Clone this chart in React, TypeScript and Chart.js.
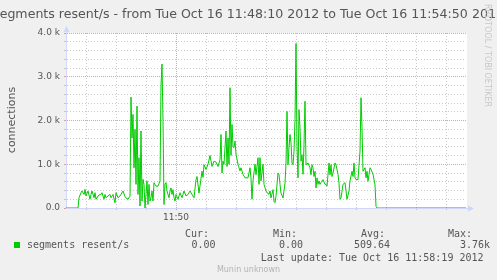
import { useEffect, useRef } from "react";
import { Chart, registerables } from "chart.js";

Chart.register(...registerables);

// seconds after 11:48:10
const seconds = [
  0, 12, 13, 15, 16, 18, 19, 20, 22, 24, 25, 26, 28, 29, 30, 32, 34, 35, 36, 38,
  39, 40, 42, 44, 45, 47, 49, 50, 52, 54, 55, 57, 59, 60, 62, 64, 65, 66, 67, 68,
  69, 70, 71, 72, 73, 74, 75, 76, 77, 78, 79, 80, 81, 82, 83, 84, 85, 86, 87, 88,
  89, 90, 92, 94, 95, 96, 97, 98, 99, 100, 101, 102, 103, 104, 105, 106, 107, 108, 109, 110,
  112, 114, 116, 118, 120, 122, 124, 126, 128, 130, 131, 133, 136, 137, 138, 140, 142, 144, 146, 148,
  150, 152, 154, 155, 156, 157, 158, 160, 161, 162, 163, 164, 165, 166, 167, 168, 169, 170, 172, 174,
  175, 177, 179, 181, 182, 184, 185, 186, 187, 189, 190, 192, 193, 194, 195, 197, 198, 200, 201, 203,
  204, 205, 207, 208, 209, 210, 212, 213, 214, 215, 217, 219, 220, 221, 222, 223, 224, 225, 226, 227,
  228, 229, 230, 231, 232, 233, 234, 235, 236, 237, 238, 239, 240, 241, 242, 244, 245, 246, 247, 248,
  249, 250, 251, 252, 253, 254, 255, 257, 259, 260, 261, 263, 264, 265, 266, 267, 269, 270, 272, 273,
  274, 275, 277, 279, 280, 281, 283, 284, 286, 287, 288, 289, 290, 292, 294, 295, 296, 297, 299, 300,
  301, 302, 304, 305, 307, 309, 310, 311, 400,
];

const resent = [
  0, 0, 235, 350, 390, 310, 425, 275, 390, 200, 310, 390, 235, 350, 200, 275, 310, 310, 350, 200,
  310, 235, 275, 310, 235, 310, 120, 350, 235, 275, 310, 390, 260, 230, 200, 270, 2535, 1600, 2140, 920,
  1800, 540, 2330, 310, 1150, 45, 1760, 160, 655, 540, 0, 310, 620, 80, 540, 160, 235, 390, 160, 580,
  540, 500, 500, 620, 2800, 3290, 2000, 80, 540, 580, 390, 310, 235, 390, 460, 310, 420, 235, 160, 310,
  200, 350, 235, 390, 275, 310, 390, 310, 235, 650, 720, 340, 840, 700, 990, 880, 1000, 1200, 950, 1070,
  1050, 950, 1100, 1680, 800, 1070, 1000, 1760, 950, 1600, 1000, 2750, 1200, 1910, 1400, 1380, 1530, 1230, 1000, 850,
  920, 770, 690, 690, 690, 920, 690, 200, 620, 1000, 760, 1150, 540, 1150, 620, 1000, 540, 390, 350, 310,
  390, 230, 420, 150, 120, 270, 800, 760, 540, 340, 230, 570, 1030, 2210, 990, 1380, 1680, 1490, 1030, 990,
  1300, 2020, 3760, 1410, 690, 2250, 1830, 1070, 1220, 770, 1450, 2440, 1000, 1000, 1030, 920, 760, 990, 920, 720,
  840, 460, 690, 540, 620, 540, 580, 650, 540, 540, 500, 1030, 760, 990, 720, 800, 1030, 990, 770, 570,
  200, 230, 540, 580, 390, 200, 390, 620, 840, 720, 1030, 690, 650, 650, 1300, 2520, 1830, 840, 920, 690,
  840, 610, 920, 880, 770, 530, 40, 0, 0,
];

const yTickValues = [0, 200, 400, 600, 800, 1000, 1200, 1400, 1600, 1800, 2000, 2200, 2400, 2600, 2800, 3000, 3200, 3400, 3600, 3800, 4000];
const yTickLabels: Record<number, string> = { 0: "0.0", 1000: "1.0 k", 2000: "2.0 k", 3000: "3.0 k", 4000: "4.0 k" };
const xTickValues = [20, 50, 80, 110, 140, 170, 200, 230, 260, 290, 320, 350, 380];
const xTickLabels: Record<number, string> = { 110: "11:50" };

const titleText = "segments resent/s - from Tue Oct 16 11:48:10 2012 to Tue Oct 16 11:54:50 2012";
const yAxisTitle = "connections";
const seriesName = "segments resent/s";
const statHeaders = ["Cur:", "Min:", "Avg:", "Max:"];
const statValues = ["0.00", "0.00", "509.64", "3.76k"];
const lastUpdate = "Last update: Tue Oct 16 11:58:19 2012";
const footer = "Munin unknown";
const watermark = "RRDTOOL / TOBI OETIKER";

const GRID = "rgba(150,150,150,0.5)";
const MGRID = "rgba(222,79,79,0.55)";
const AXIS = "#CFD6F8";
const FONT = "#555555";
const LINE = "#00CC00";

const munin = {
  id: "munin",
  beforeDraw(chart: any) {
    const { ctx, chartArea: a } = chart;
    ctx.save();
    ctx.fillStyle = "#FFFFFF";
    ctx.fillRect(a.left, a.top, a.right - a.left + 1, a.bottom - a.top);
    ctx.restore();
  },
  afterDraw(chart: any) {
    const { ctx, chartArea: a } = chart;
    ctx.save();
    // arrows
    ctx.fillStyle = AXIS;
    ctx.strokeStyle = AXIS;
    ctx.lineWidth = 1;
    ctx.beginPath();
    ctx.moveTo(a.right, a.bottom + 0.5);
    ctx.lineTo(a.right + 3, a.bottom + 0.5);
    ctx.stroke();
    ctx.beginPath();
    ctx.moveTo(a.right + 2, a.bottom - 2.5);
    ctx.lineTo(a.right + 8, a.bottom + 0.5);
    ctx.lineTo(a.right + 2, a.bottom + 3.5);
    ctx.closePath();
    ctx.fill();
    ctx.beginPath();
    ctx.moveTo(a.left - 2.5, a.top - 1);
    ctx.lineTo(a.left + 0.5, a.top - 7);
    ctx.lineTo(a.left + 3.5, a.top - 1);
    ctx.closePath();
    ctx.fill();
    ctx.beginPath();
    ctx.moveTo(a.left + 0.5, a.top - 1);
    ctx.lineTo(a.left + 0.5, a.top + 1);
    ctx.stroke();

    // title
    ctx.fillStyle = FONT;
    ctx.font = '12.6px "DejaVu Sans"';
    ctx.textAlign = "center";
    ctx.textBaseline = "alphabetic";
    ctx.fillText(titleText, 248.5, 18);

    // y axis title
    ctx.save();
    ctx.translate(15, 120);
    ctx.rotate(-Math.PI / 2);
    ctx.font = '11px "DejaVu Sans"';
    ctx.textAlign = "center";
    ctx.fillText(yAxisTitle, 0, 0);
    ctx.restore();

    // watermark
    ctx.save();
    ctx.translate(485, 4);
    ctx.rotate(Math.PI / 2);
    ctx.font = '8px "DejaVu Sans"';
    ctx.fillStyle = "#C8C8C8";
    ctx.textAlign = "left";
    ctx.fillText(watermark, 0, 0);
    ctx.restore();

    // legend
    ctx.fillStyle = LINE;
    ctx.fillRect(14, 242, 6, 6);
    ctx.fillStyle = FONT;
    ctx.font = '10px "DejaVu Sans Mono"';
    ctx.textAlign = "left";
    ctx.fillText(seriesName, 27, 248);
    const hx = [185, 273, 361, 448];
    const vx = [191.5, 279, 354, 460];
    statHeaders.forEach((h, i) => ctx.fillText(h, hx[i], 237));
    statValues.forEach((v, i) => ctx.fillText(v, vx[i], 248));
    ctx.textAlign = "right";
    ctx.fillText(lastUpdate, 483.5, 261);

    ctx.font = '8px "DejaVu Sans"';
    ctx.fillStyle = "#B4B4B4";
    ctx.textAlign = "center";
    ctx.fillText(footer, 248.5, 271.5);
    ctx.restore();
  },
};

export default function App() {
  const ref = useRef<HTMLCanvasElement | null>(null);
  useEffect(() => {
    document.body.style.margin = "0";
    const canvas = ref.current!;
    const chart = new Chart(canvas, {
      type: "line",
      data: {
        datasets: [
          {
            label: seriesName,
            data: seconds.map((t, i) => ({ x: t, y: resent[i] })),
            borderColor: LINE,
            backgroundColor: LINE,
            borderWidth: 1,
            pointRadius: 0,
            tension: 0,
          },
        ],
      },
      options: {
        animation: false,
        responsive: false,
        events: [],
        layout: { padding: { left: 16, right: 31, top: 33, bottom: 52 } },
        plugins: { legend: { display: false }, title: { display: false }, tooltip: { enabled: false } },
        scales: {
          x: {
            type: "linear",
            min: 0,
            max: 400,
            afterBuildTicks: (s: any) => {
              s.ticks = xTickValues.map((v) => ({ value: v }));
            },
            afterFit: (s: any) => {
              s.height = 20;
            },
            ticks: {
              autoSkip: false,
              maxRotation: 0,
              padding: 2,
              color: FONT,
              font: { family: "DejaVu Sans", size: 9 },
              callback: (v: any) => xTickLabels[v] ?? "",
            },
            grid: {
              color: (c: any) => (c.tick && c.tick.value === 110 ? MGRID : GRID),
              lineWidth: 1,
              drawTicks: true,
              tickLength: 2,
            },
            border: {
              display: true,
              color: AXIS,
              width: 1,
              dash: (c: any) => (c.tick && c.tick.value === 110 ? [1, 1] : [1, 2]),
            },
          },
          y: {
            type: "linear",
            min: 0,
            max: 4000,
            afterBuildTicks: (s: any) => {
              s.ticks = yTickValues.map((v) => ({ value: v }));
            },
            afterFit: (s: any) => {
              s.width = 50;
            },
            ticks: {
              autoSkip: false,
              padding: 4,
              color: FONT,
              font: { family: "DejaVu Sans", size: 9 },
              callback: (v: any) => yTickLabels[v] ?? "",
            },
            grid: {
              color: (c: any) => (c.tick && c.tick.value % 1000 === 0 ? MGRID : GRID),
              lineWidth: 1,
              drawTicks: true,
              tickLength: 2,
            },
            border: {
              display: true,
              color: AXIS,
              width: 1,
              dash: (c: any) => (c.tick && c.tick.value % 1000 === 0 ? [1, 1] : [1, 2]),
            },
          },
        },
      },
      plugins: [munin],
    } as any);
    return () => chart.destroy();
  }, []);
  return (
    <div style={{ width: 497, height: 280, background: "#F0F0F0" }}>
      <canvas ref={ref} width={497} height={280} style={{ display: "block" }} />
    </div>
  );
}
